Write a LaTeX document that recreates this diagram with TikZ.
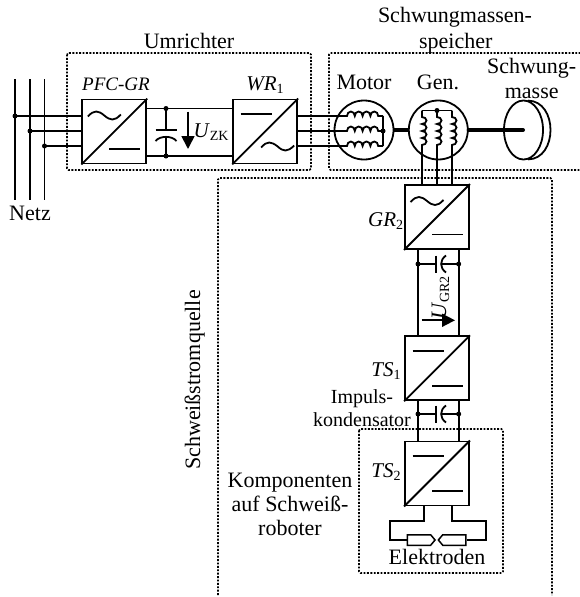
\documentclass[tikz,border=0pt]{standalone}
\usepackage{fontspec}
\setmainfont{Liberation Serif}
\usetikzlibrary{arrows.meta,shapes.geometric,shapes.symbols}
\newcommand{\subtext}[2]{\textit{#1}\raisebox{-3pt}{\fontsize{14}{14}\selectfont #2}}
\tikzset{
  wire/.style={draw=black, line width=1.8pt},
  shaft/.style={draw=black, line width=4pt},
  dot/.style={circle, fill=black, inner sep=0pt, minimum size=5pt},
  conv/.style={rectangle, draw=black, line width=1.9pt, minimum size=64pt, inner sep=0pt},
  machine/.style={circle, draw=black, line width=1.8pt, minimum size=59pt, inner sep=0pt},
  group box/.style={draw=black, line width=1.7pt, dash pattern=on 1.9pt off 1.5pt, rounded corners=1.5pt},
  electrode/.style={signal, draw=black, line width=1.5pt, minimum width=27.6pt, minimum height=10.5pt, inner sep=0pt, signal pointer angle=100},
  txt/.style={font=\fontsize{22}{24}\selectfont, anchor=base, inner sep=0pt},
  small txt/.style={font=\fontsize{20}{24}\selectfont, anchor=base, inner sep=0pt},
  ital txt/.style={font=\fontsize{21}{24}\selectfont, anchor=base, inner sep=0pt},
  ac upper/.pic={\draw[wire] (-26.5,-15) .. controls (-20,-22) and (-16,-21) .. (-10,-16) .. controls (-4,-11) and (0,-10) .. (6.5,-17);},
  ac lower/.pic={\draw[wire] (-4,16) .. controls (2,9) and (6,10) .. (12.5,15) .. controls (18,20) and (22,21) .. (29,14);},
  dc upper/.pic={\draw[wire] (-24.5,-17.5) -- (7,-17.5);},
  dc lower/.pic={\draw[wire] (-5,17.5) -- (26,17.5);},
}
\begin{document}
\begin{tikzpicture}[x=1pt,y=-1pt]
  \useasboundingbox (0,0) rectangle (579,597);
  % dotted groups
  \draw[group box] (67,53) rectangle (311,170);
  \draw[group box] (584,53) -- (329,53) -- (329,170) -- (584,170);
  \draw[group box] (218,595) -- (218,178) -- (552,178) -- (552,595);
  \draw[group box] (359,429) rectangle (503,573);
  % converters
  \node[conv] (pfc) at (114.3,131.5) {};
  \node[conv] (wr) at (265.2,131.5) {};
  \node[conv] (gr) at (437,217) {};
  \node[conv] (tsa) at (437,368.3) {};
  \node[conv] (tsb) at (437,473.5) {};
  \foreach \b/\up/\low in {pfc/ac upper/dc lower,wr/dc upper/ac lower,gr/ac upper/dc lower,tsa/dc upper/dc lower,tsb/dc upper/dc lower} {
    \draw[wire] (\b.south west) -- (\b.north east);
    \path (\b.center) pic {\up} pic {\low};
  }
  % grid
  \node[dot] (neta) at (15,116) {};
  \node[dot] (netb) at (30,131) {};
  \node[dot] (netc) at (44.5,146) {};
  \foreach \n in {neta,netb,netc} {
    \draw[wire] (\n |- 0,79) -- (\n |- 0,200);
    \draw[wire] (\n.center) -- (\n -| pfc.west);
  }
  % dc link
  \node[dot] (zkp) at (166,108.5) {};
  \node[dot] (zkn) at (166,156) {};
  \draw[wire] (zkp -| pfc.east) -- (zkp -| wr.west);
  \draw[wire] (zkn -| pfc.east) -- (zkn -| wr.west);
  \draw[wire] (zkp.center) -- (166,130) (155.5,130) -- (176.5,130);
  \draw[wire] (155.5,141) .. controls (160,135.5) and (172,135.5) .. (176.5,141);
  \draw[wire] (166,137) -- (zkn.center);
  \coordinate (zktop) at (188,111.5);
  \coordinate (zktip) at (188,149);
  \draw[wire, -{Triangle[length=13pt,width=13pt]}] (zktop) -- (zktip);
  % machines
  \node[machine] (motor) at (364,130) {};
  \node[machine] (gen) at (438.3,130) {};
  \node[dot] (star) at (383,131) {};
  \node[dot] (genstar) at (437,110.5) {};
  \foreach \y in {116,131,146} {
    \draw[wire] (wr.east |- 0,\y) -- (347,\y)
      \foreach \i in {1,...,4} { arc[start angle=180,end angle=360,x radius=3.9,y radius=4.5] }
      -- (star |- 0,\y);
  }
  \draw[wire] (star |- 0,116) -- (star |- 0,146);
  \draw[wire] (422,110.5) -- (452,110.5);
  \foreach \x in {422,437,452} {
    \draw[wire] (\x,110.5) -- (\x,117)
      \foreach \i in {1,...,4} { arc[start angle=-90,end angle=90,x radius=4.5,y radius=3.5] }
      -- (\x,0 |- gr.north);
  }
  % flywheel
  \node[ellipse, draw=black, line width=1.8pt, minimum width=39pt, minimum height=59pt, inner sep=0pt] (mass) at (523.5,130) {};
  \draw[wire] (528,100.6) .. controls (558,101) and (558,159) .. (528,159.4);
  \coordinate (hub) at (523,130);
  \draw[shaft] (motor.east) -- (gen.west);
  \draw[shaft, line cap=round] (gen.east) -- (hub);
  % rails and capacitors
  \foreach \n/\y in {a/264,b/414} {
    \node[dot] (capl\n) at (418,\y) {};
    \node[dot] (capr\n) at (458.7,\y) {};
    \draw[wire] (capl\n.center) -- (436,\y) (436,\y-8.5) -- (436,\y+8.5);
    \draw[wire] (446,\y-8.5) .. controls (439.5,\y-4) and (439.5,\y+4) .. (446,\y+8.5);
    \draw[wire] (441.3,\y) -- (capr\n.center);
  }
  \draw[wire] (capla |- gr.south) -- (capla |- tsa.north);
  \draw[wire] (capra |- gr.south) -- (capra |- tsa.north);
  \draw[wire] (caplb |- tsa.south) -- (caplb |- tsb.north);
  \draw[wire] (caprb |- tsa.south) -- (caprb |- tsb.north);
  \coordinate (grtail) at (421.7,320.3);
  \coordinate (grtip) at (455,320.3);
  \draw[wire, -{Triangle[length=13pt,width=13pt]}] (grtail) -- (grtip);
  % electrodes
  \node[electrode, signal to=east, anchor=west] (ela) at (406.7,540) {};
  \node[electrode, signal to=west, anchor=east] (elb) at (466.7,540) {};
  \draw[wire] (424.3,0 |- tsb.south) -- (424.3,521) -- (390,521) -- (390,540) -- (ela.west);
  \draw[wire] (451.7,0 |- tsb.south) -- (451.7,521) -- (486,521) -- (486,540) -- (elb.east);
  % labels
  \node[txt] (lblum) at (189,48) {Umrichter};
  \node[txt] (lblsa) at (455,23) {Schwungmassen-};
  \node[txt] (lblsb) at (455.7,48.5) {speicher};
  \node[txt] (lblma) at (531.7,73) {Schwung-};
  \node[txt] (lblmb) at (531.7,98) {masse};
  \node[txt] (lblmot) at (364,89) {Motor};
  \node[txt] (lblgen) at (438,89) {Gen.};
  \node[ital txt, font=\fontsize{19}{24}\selectfont] (lblpfc) at (116,90.5) {\textit{PFC-GR}};
  \node[ital txt] (lblwr) at (265,90) {\subtext{WR}{1}};
  \node[txt] (lblnetz) at (30,220.5) {Netz};
  \node[ital txt] (lblzk) at (211,137) {\subtext{U}{ZK}};
  \node[ital txt] (lblgr) at (385.7,226) {\subtext{GR}{2}};
  \node[ital txt] (lblta) at (386,376) {\subtext{TS}{1}};
  \node[ital txt] (lbltb) at (386,477.5) {\subtext{TS}{2}};
  \node[txt, rotate=90] (lblgrv) at (446,298) {\subtext{U}{GR2}};
  \node[small txt] (lblia) at (362,403) {Impuls-};
  \node[small txt] (lblib) at (362,426) {kondensator};
  \node[txt] (lblka) at (290,487) {Komponenten};
  \node[txt] (lblkb) at (290,511) {auf Schweiß-};
  \node[txt] (lblkc) at (290,535) {roboter};
  \node[txt, rotate=90] (lblsq) at (200,380) {Schweißstromquelle};
  \node[txt] (lblel) at (437,564) {Elektroden};
\end{tikzpicture}
\end{document}
